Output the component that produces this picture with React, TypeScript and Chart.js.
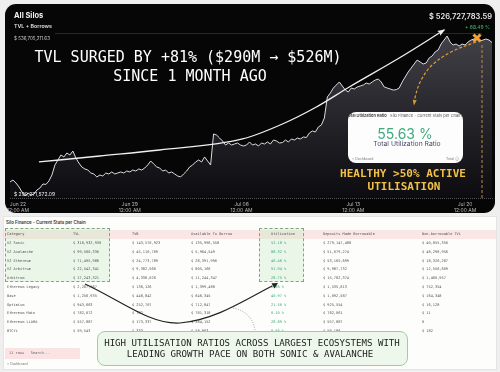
import React, { useEffect, useRef } from "react";
import { Chart, registerables } from "chart.js";
Chart.register(...registerables);

// ---------- chart data (TVL + Borrows, $M), sampled every 4.5h from Jun 21 12:00 ----------
const START_HOUR = -12; // hours relative to Jun 22 00:00
const STEP_HOURS = 4.5;
const TVL_M = [
  311.9, 314.9, 310.3, 304.2, 296.5, 290.3, 294.9, 291.8, 293.4, 299.5,
  302.6, 308.8, 308.1, 313.4, 322.6, 338.0, 345.7, 353.4, 350.4, 356.5,
  353.4, 359.6, 348.8, 341.1, 335.0, 331.9, 330.3, 325.7, 324.2, 319.6,
  322.6, 321.1, 325.7, 324.2, 327.3, 324.2, 325.7, 327.3, 325.7, 328.8,
  327.3, 330.3, 328.8, 331.9, 330.3, 333.4, 338.0, 344.2, 339.6, 335.0,
  333.4, 328.8, 330.3, 325.7, 327.3, 324.2, 321.1, 319.6, 324.2, 328.8,
  335.0, 338.0, 342.7, 345.7, 342.7, 350.4, 344.2, 338.0, 385.8, 384.2,
  379.6, 375.0, 368.8, 371.9, 368.8, 370.4, 371.9, 368.8, 367.3, 368.8,
  373.5, 368.8, 370.4, 367.3, 371.9, 370.4, 373.5, 370.4, 376.5, 375.0,
  371.9, 372.6, 376.5, 373.5, 378.1, 376.5, 379.6, 378.1, 381.2, 380.4,
  387.3, 390.4, 388.9, 396.6, 399.6, 410.4, 442.8, 448.9, 456.6, 461.2,
  465.9, 459.7, 453.5, 450.5, 456.6, 455.1, 458.2, 459.7, 461.2, 464.3,
  462.8, 465.9, 468.9, 470.5, 465.9, 458.2, 456.6, 455.1, 453.5, 454.0,
  456.6, 465.9, 473.6, 481.3, 487.4, 493.6, 499.7, 496.7, 493.6, 495.1,
  502.8, 505.9, 512.1, 515.1, 524.4, 530.5, 536.7, 527.5, 522.8, 524.4,
  521.3, 524.4, 522.8, 527.5, 530.5, 532.1, 533.6, 529.0, 530.5, 532.1,
  530.5, 526.7,
];
const X_MIN = -12;
const X_MAX = 712.5;
const Y_MIN = 287.2;
const Y_MAX = 539.8;
const TICK_HOURS = [0, 168, 336, 504, 672];
const TICK_DATES = ["Jun 22", "Jun 29", "Jul 06", "Jul 13", "Jul 20"];
const TICK_TIME = "12:00 AM";

// annotation paths (in the chart's own hour / $M units)
const TREND_H = [31.5, 123, 213, 337.5, 397.5, 448.5, 498, 573, 640.5];
const TREND_V = [342.7, 351.9, 361.1, 378.1, 401.2, 427.4, 458.2, 502.8, 545.9];
const ORANGE_H = [688.5, 651, 621, 604.5, 597, 595.5];
const ORANGE_V = [527.5, 512.1, 490.5, 465.9, 442.8, 432.0];
const VLINE_H = 697.5;
const VLINE_V = [522.8, 284.1];
const MARKER_H = 690;
const MARKER_V = 533.6;

// ---------- table data ----------
const HEADERS = ["Category", "TVL", "TVB", "Available To Borrow", "Utilization", "Deposits Made Borrowable", "Non-borrowable TVL"];
const CHAINS = ["V2 Sonic", "V2 Avalanche", "V2 Ethereum", "V2 Arbitrum", "Arbitrum", "Ethereum Legacy", "Base", "Optimism", "Ethereum Main", "Ethereum LLAMA", "BTCfi"];
const TVL_COL = ["$ 316,932,930", "$ 99,560,330", "$ 71,495,986", "$ 22,542,341", "$ 17,243,321", "$ 2,287,967", "$ 1,256,935", "$ 943,663", "$ 782,072", "$ 557,887", "$ 59,543"];
const TVB_COL = ["$ 143,570,923", "$ 45,110,769", "$ 24,773,789", "$ 9,382,566", "$ 4,338,026", "$ 136,126", "$ 448,842", "$ 252,707", "$ 782", "$ 173,337", "$ 333"];
const AVAIL_COL = ["$ 135,996,558", "$ 5,964,549", "$ 28,391,990", "$ 805,166", "$ 11,244,347", "$ 1,399,488", "$ 646,345", "$ 712,847", "$ 781,318", "$ 384,152", "$ 58,963"];
const UTIL_COL = ["52.18 %", "88.32 %", "46.46 %", "91.94 %", "28.75 %", "8.86 %", "40.97 %", "21.50 %", "0.10 %", "28.89 %", "0.56 %"];
const DEPOSIT_COL = ["$ 279,147,488", "$ 51,079,274", "$ 53,165,699", "$ 9,987,732", "$ 15,782,374", "$ 1,535,613", "$ 1,092,587", "$ 925,554", "$ 782,061", "$ 557,887", "$ 59,186"];
const NONBORROW_COL = ["$ 40,855,350", "$ 48,298,956", "$ 18,326,287", "$ 12,556,609", "$ 1,460,957", "$ 752,354", "$ 164,348", "$ 16,128", "$ 11", "0", "$ 182"];

const COLS_X = [7, 73, 132, 191, 271, 323, 422];
const ROW_Y = [243, 252, 260.8, 269.6, 278.4, 287.2, 296, 304.8, 313.6, 322.4, 331.2];

const MONO = "'DejaVu Sans Mono', monospace";
const SANS = "Inter, 'Noto Sans', sans-serif";

type TP = {
  x: number; y: number; size: number; color?: string; weight?: number | string;
  family?: string; align?: "left" | "center" | "right"; children: React.ReactNode; ls?: number;
};
function T({ x, y, size, color = "#fff", weight = 400, family = SANS, align = "left", children, ls }: TP) {
  const lh = size * 1.25;
  const style: React.CSSProperties = {
    position: "absolute", top: y - lh / 2, fontSize: size, lineHeight: `${lh}px`,
    color, fontWeight: weight as any, fontFamily: family, whiteSpace: "pre", letterSpacing: ls,
  };
  if (align === "left") style.left = x;
  else if (align === "right") style.right = 500 - x;
  else { style.left = x; style.transform = "translateX(-50%)"; }
  return <div style={style}>{children}</div>;
}

const arrowPlugin = {
  id: "arrowHeads",
  afterDatasetsDraw(chart: any) {
    const ctx = chart.ctx;
    chart.data.datasets.forEach((ds: any, i: number) => {
      if (!ds.arrowHead) return;
      const pts = chart.getDatasetMeta(i).data;
      const b = pts[pts.length - 1];
      const a = pts[pts.length - 2];
      let ax = a.x, ay = a.y;
      if (b.cp1x !== undefined && (Math.abs(b.cp1x - b.x) + Math.abs(b.cp1y - b.y)) > 0.5) { ax = b.cp1x; ay = b.cp1y; }
      const ang = Math.atan2(b.y - ay, b.x - ax);
      const L = ds.arrowHead;
      ctx.save();
      ctx.fillStyle = ds.borderColor;
      ctx.beginPath();
      ctx.moveTo(b.x + Math.cos(ang) * 1.5, b.y + Math.sin(ang) * 1.5);
      ctx.lineTo(b.x - L * Math.cos(ang - 0.42), b.y - L * Math.sin(ang - 0.42));
      ctx.lineTo(b.x - L * 0.7 * Math.cos(ang), b.y - L * 0.7 * Math.sin(ang));
      ctx.lineTo(b.x - L * Math.cos(ang + 0.42), b.y - L * Math.sin(ang + 0.42));
      ctx.closePath();
      ctx.fill();
      ctx.restore();
    });
  },
};

function TvlChart() {
  const ref = useRef<HTMLCanvasElement>(null);
  useEffect(() => {
    const canvas = ref.current!;
    const tvlPoints = TVL_M.map((v, i) => ({ x: START_HOUR + i * STEP_HOURS, y: v }));
    const chart = new Chart(canvas, {
      type: "line",
      data: {
        datasets: [
          {
            label: "TVL + Borrows",
            data: tvlPoints,
            borderColor: "#dcdcde",
            borderWidth: 1,
            pointRadius: 0,
            tension: 0,
            fill: "start",
            order: 10,
            backgroundColor: (c: any) => {
              const area = c.chart.chartArea;
              if (!area) return "rgba(60,60,66,0.6)";
              const g = c.chart.ctx.createLinearGradient(0, area.top, 0, area.bottom);
              g.addColorStop(0, "rgba(82,82,90,0.8)");
              g.addColorStop(0.45, "rgba(52,52,60,0.75)");
              g.addColorStop(1, "rgba(16,16,22,0.7)");
              return g;
            },
          } as any,
          {
            label: "trend",
            data: TREND_H.map((h, i) => ({ x: h, y: TREND_V[i] })),
            borderColor: "#f0f0f0",
            borderWidth: 1.3,
            pointRadius: 0,
            fill: false,
            cubicInterpolationMode: "monotone",
            clip: false,
            arrowHead: 7,
          } as any,
          {
            label: "to-card",
            data: ORANGE_H.map((h, i) => ({ x: h, y: ORANGE_V[i] })),
            borderColor: "#e39b37",
            borderWidth: 1.2,
            borderDash: [3, 2],
            pointRadius: 0,
            tension: 0.35,
            fill: false,
            clip: false,
            arrowHead: 5,
          } as any,
          {
            label: "vline",
            data: VLINE_V.map((v) => ({ x: VLINE_H, y: v })),
            borderColor: "#c98a34",
            borderWidth: 1,
            borderDash: [3, 2],
            pointRadius: 0,
            fill: false,
            clip: false,
          } as any,
          {
            label: "marker",
            data: [{ x: MARKER_H, y: MARKER_V }],
            showLine: false,
            pointStyle: "crossRot",
            pointRadius: 5,
            pointBorderWidth: 3,
            pointBorderColor: "#f2a23b",
            borderColor: "#f2a23b",
            clip: false,
          } as any,
        ],
      },
      options: {
        animation: false,
        responsive: false,
        events: [],
        layout: { padding: { left: 10, right: 7, top: 34, bottom: 0 } },
        plugins: { legend: { display: false }, tooltip: { enabled: false } },
        scales: {
          x: {
            type: "linear",
            min: X_MIN,
            max: X_MAX,
            grid: { display: false, drawTicks: false },
            border: { display: false },
            afterBuildTicks: (axis: any) => { axis.ticks = TICK_HOURS.map((v) => ({ value: v })); },
            afterFit: (axis: any) => { axis.height = 16; },
            ticks: {
              autoSkip: false,
              maxRotation: 0,
              padding: 3,
              color: "#b8b8b8",
              font: { family: "Inter", size: 5 },
              callback: (v: any) => {
                const i = TICK_HOURS.indexOf(Number(v));
                return i >= 0 ? [TICK_DATES[i], TICK_TIME] : "";
              },
            },
          },
          y: { type: "linear", display: false, min: Y_MIN, max: Y_MAX },
        },
      } as any,
      plugins: [arrowPlugin],
    });
    return () => chart.destroy();
  }, []);
  return <canvas ref={ref} width={500} height={214} style={{ position: "absolute", left: 0, top: 0, width: 500, height: 214 }} />;
}

export default function App() {
  const cell = (x: number, y: number, s: string, color = "#555", key?: string) => (
    <T key={key} x={x} y={y} size={3.6} family={MONO} color={color}>{s}</T>
  );
  const cols = [CHAINS, TVL_COL, TVB_COL, AVAIL_COL, UTIL_COL, DEPOSIT_COL, NONBORROW_COL];
  return (
    <div style={{ position: "fixed", left: 0, top: 0, width: 500, height: 372, background: "#efefef", overflow: "hidden", fontFamily: SANS }}>
      {/* dark panel */}
      <div style={{ position: "absolute", left: 5, top: 4, width: 490, height: 209, borderRadius: 11, background: "#060606" }} />
      <div style={{ position: "absolute", left: 55, top: 33, width: 427, height: 0, borderTop: "1px solid #262626" }} />
      <div style={{ position: "absolute", left: 10, top: 198, width: 483, height: 0, borderTop: "1px dotted #555" }} />
      <TvlChart />

      <T x={14} y={16} size={7.5} weight={700} color="#f2f2f2">All Silos</T>
      <T x={14} y={26} size={5.3} weight={600} color="#e0e0e0">TVL + Borrows</T>
      <T x={14} y={39} size={4.5} color="#cfcfcf">$ 536,705,211.63</T>
      <T x={492} y={17} size={7.5} weight={600} align="right" color="#e8e8e8">$ 526,727,783.59</T>
      <T x={490} y={27} size={5} align="right" color="#43b86c">+ 68.49 %</T>
      <T x={14} y={194} size={5} color="#eeeeee">$ 290,271,572.09</T>

      <T x={188} y={57} size={15} family={MONO} align="center" color="#ffffff">TVL SURGED BY +81% ($290M → $526M)</T>
      <T x={190} y={76} size={15} family={MONO} align="center" color="#ffffff">SINCE 1 MONTH AGO</T>

      {/* utilization card */}
      <div style={{ position: "absolute", left: 348, top: 112, width: 115, height: 51, borderRadius: 8, background: "#fdfdfd", overflow: "hidden" }}>
        <div style={{ position: "absolute", left: -2, top: 1, fontSize: 4, lineHeight: "5px", whiteSpace: "pre", color: "#333", fontFamily: SANS }}>
          <span style={{ fontWeight: 600 }}>Total Utilization Ratio</span>{"   "}<span style={{ color: "#555" }}>Silo Finance - Current Stats per Chain</span>
        </div>
      </div>
      <T x={405} y={134} size={14} align="center" color="#3fa97c">55.63 %</T>
      <T x={407} y={144} size={6.8} align="center" color="#4b4a6e">Total Utilization Ratio</T>
      <T x={352} y={159.5} size={3.5} color="#777">{"< Dashboard"}</T>
      <T x={459} y={159.5} size={3.5} align="right" color="#777">Total ⓘ</T>

      <T x={403} y={174} size={11} weight={700} family={MONO} align="center" color="#f3c146">HEALTHY &gt;50% ACTIVE</T>
      <T x={404} y={187} size={11} weight={700} family={MONO} align="center" color="#f3c146">UTILISATION</T>

      {/* table */}
      <div style={{ position: "absolute", left: 3, top: 216, width: 494, height: 154, background: "#fdfdfc", border: "1px solid #e4e4e4", boxSizing: "border-box" }} />
      <T x={6} y={223} size={4.4} weight={600} color="#333">Silo Finance - Current Stats per Chain</T>
      <div style={{ position: "absolute", left: 4, top: 229.5, width: 492, height: 9, background: "#fbe6e6" }} />
      <div style={{ position: "absolute", left: 5, top: 228, width: 105, height: 54, border: "1px dashed #7fa77f", background: "rgba(196,232,196,0.35)", boxSizing: "border-box" }} />
      <div style={{ position: "absolute", left: 259, top: 228, width: 45, height: 54, border: "1px dashed #7fa77f", background: "rgba(196,232,196,0.35)", boxSizing: "border-box" }} />
      {HEADERS.map((h, i) => cell(COLS_X[i], 234, h, "#555", "h" + i))}
      {cols.map((col, ci) =>
        col.map((s, ri) => cell(COLS_X[ci], ROW_Y[ri], s, ci === 4 ? "#3aa57a" : "#555", `c${ci}-${ri}`))
      )}
      <div style={{ position: "absolute", left: 5, top: 348, width: 75, height: 11, background: "#fbe3e3", borderRadius: 1 }} />
      <T x={9} y={353.5} size={3.6} family={MONO} color="#666">{"11 rows   Search..."}</T>
      <T x={7} y={364} size={3.4} color="#777">{"< Dashboard"}</T>

      {/* callout */}
      <div style={{ position: "absolute", left: 97, top: 331, width: 311, height: 35, borderRadius: 8, background: "#eef7ec", border: "1px solid #9ccf9b", boxSizing: "border-box" }} />
      <T x={252} y={344} size={9.1} family={MONO} align="center" color="#1c1c1c">HIGH UTILISATION RATIOS ACROSS LARGEST ECOSYSTEMS WITH</T>
      <T x={250} y={355} size={9.1} family={MONO} align="center" color="#1c1c1c">LEADING GROWTH PACE ON BOTH SONIC &amp; AVALANCHE</T>

      <svg width={500} height={372} style={{ position: "absolute", left: 0, top: 0, pointerEvents: "none" }}>
        <path d="M85,284 C120,300 150,325 180,323 C215,320 245,300 272,286" fill="none" stroke="#222" strokeWidth={1.2} />
        <polygon points="278,283 271.5,283.2 274.4,288.6" fill="#222" />
        <path d="M233,308 Q252,312 255,330" fill="none" stroke="#888" strokeWidth={0.8} strokeDasharray="1,1.5" />
      </svg>
    </div>
  );
}
